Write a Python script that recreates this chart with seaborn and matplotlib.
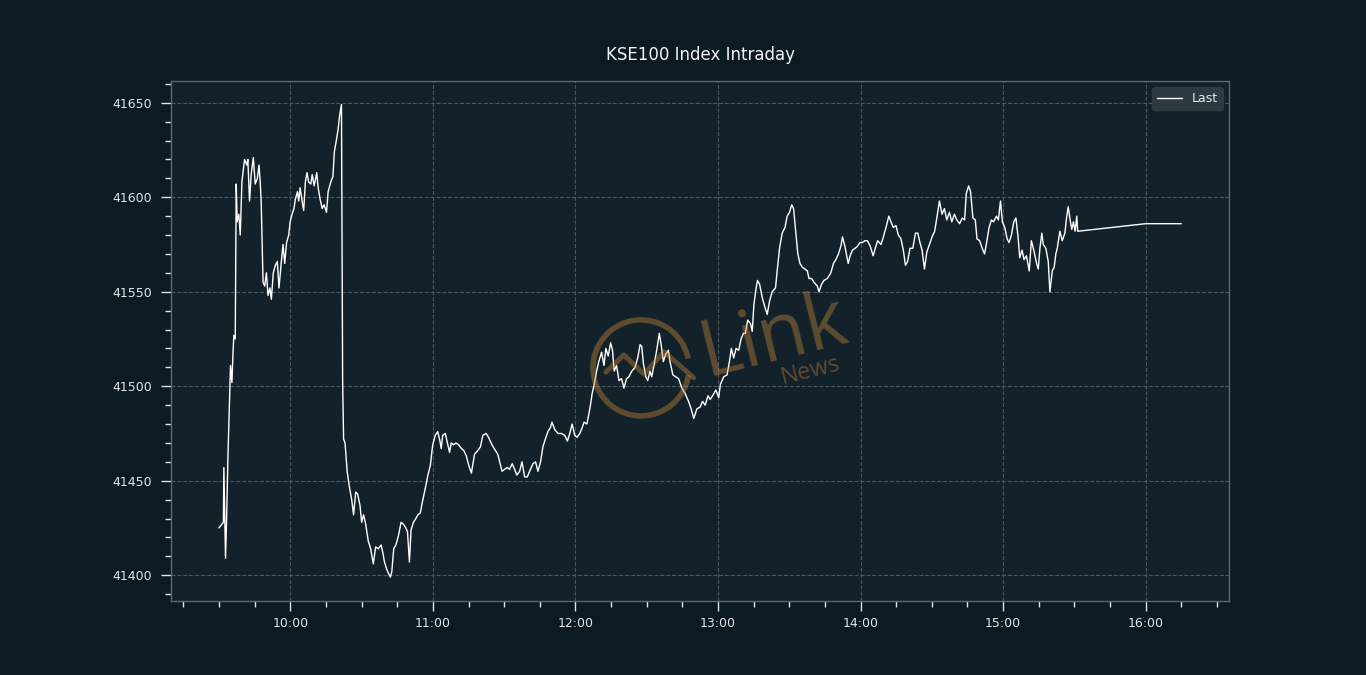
import matplotlib
matplotlib.use("Agg")
import matplotlib.pyplot as plt
import matplotlib.dates as mdates
from matplotlib.ticker import MultipleLocator
from matplotlib.patches import Arc
import pandas as pd
import seaborn as sns

open_minutes = [-30.1, -28.2, -28.0, -27.3, -26.8, -26.3, -25.2, -24.6, -24.2, -23.8, -23.2,
                -22.8, -22.4, -21.7, -21.1, -20.4, -19.3, -18.3, -17.9, -17.2, -16.5,
                -15.6, -14.8, -13.9, -13.2, -12.7, -12.3, -11.5, -10.8, -10.1, -9.4,
                -8.6, -8.0, -7.2, -6.3, -5.5, -4.8, -3.8, -3.1, -2.4, -1.6,
                -0.7, -0.1, 0.7, 1.5, 2.1, 3.0, 3.5, 4.1, 4.9, 5.6,
                6.3, 7.0, 7.7, 8.6, 9.2, 10.0, 11.1, 11.7, 12.5, 13.4,
                14.2, 15.2, 15.9, 17.0, 17.9, 18.5, 19.2, 20.1, 20.8, 21.5]
open_values = [41425, 41428, 41457, 41409, 41432, 41462, 41511, 41502, 41516, 41527, 41525,
               41607, 41587, 41591, 41580, 41608, 41620, 41617, 41620, 41598, 41612,
               41621, 41607, 41610, 41617, 41608, 41598, 41555, 41553, 41560, 41548,
               41552, 41546, 41560, 41564, 41566, 41552, 41566, 41575, 41565, 41576,
               41580, 41587, 41591, 41594, 41599, 41603, 41598, 41605, 41598, 41593,
               41608, 41613, 41608, 41607, 41612, 41606, 41613, 41605, 41599, 41594,
               41596, 41592, 41603, 41608, 41611, 41624, 41629, 41636, 41644, 41649]

selloff_minutes = [22.0, 22.4, 23.0, 23.9, 24.8, 25.8, 26.6, 27.5, 28.3, 29.3, 30.0,
                   30.8, 31.7, 32.8, 33.8, 34.9, 35.9, 37.0, 38.2, 38.9, 39.6,
                   40.6, 41.3, 42.1, 42.7, 43.5, 44.4, 45.5, 46.6, 47.6, 48.6,
                   49.3, 50.1, 50.8, 51.8, 52.8, 53.7, 54.7, 55.6, 56.8, 57.9,
                   58.9, 59.9, 61.0, 62.0, 62.8, 63.5, 64.1, 65.2, 66.1, 67.0,
                   67.7, 68.7, 69.7, 70.8, 72.0, 73.0, 74.1, 75.1, 76.2]
selloff_values = [41502, 41472, 41470, 41455, 41447, 41440, 41432, 41444, 41443, 41437, 41428,
                  41432, 41427, 41418, 41414, 41406, 41415, 41414, 41416, 41412, 41407,
                  41403, 41401, 41399, 41402, 41414, 41416, 41421, 41428, 41427, 41425,
                  41423, 41407, 41424, 41428, 41430, 41432, 41433, 41439, 41446, 41453,
                  41458, 41469, 41474, 41476, 41472, 41467, 41474, 41475, 41470, 41465,
                  41470, 41469, 41470, 41469, 41467, 41466, 41463, 41458, 41454]

midday_minutes = [77.5, 78.9, 80.0, 81.0, 82.4, 83.4, 84.5, 85.3, 86.3, 87.3,
                  88.3, 89.1, 90.1, 91.3, 92.2, 93.4, 94.4, 95.3, 96.5, 97.5,
                  98.6, 99.7, 100.7, 102.1, 103.2, 104.2, 105.3, 106.3, 107.3, 108.4,
                  109.4, 110.1, 111.3, 112.7, 114.1, 115.5, 116.6, 117.6, 118.6, 119.7,
                  120.7, 121.8, 122.8, 123.6, 124.8, 125.6, 126.3, 127.0]
midday_values = [41464, 41466, 41468, 41474, 41475, 41473, 41470, 41468, 41466, 41464,
                 41459, 41455, 41456, 41457, 41456, 41459, 41456, 41453, 41455, 41460,
                 41452, 41452, 41455, 41459, 41460, 41455, 41460, 41468, 41472, 41476,
                 41478, 41481, 41477, 41475, 41475, 41474, 41471, 41475, 41480, 41474,
                 41473, 41475, 41478, 41481, 41480, 41485, 41490, 41496]

rally_minutes = [127.9, 128.9, 129.8, 131.0, 132.0, 132.8, 133.8, 134.8, 135.6, 136.3,
                 137.3, 138.3, 139.4, 140.4, 141.5, 142.5, 143.7, 145.1, 146.2, 147.2,
                 147.9, 148.6, 149.6, 150.4, 151.4, 152.1, 153.2, 154.2, 155.3, 156.3,
                 157.0, 158.0, 159.1, 159.8, 161.0, 162.2, 163.4, 164.8, 166.2, 167.6,
                 168.7, 169.8, 171.1, 172.5, 173.5, 174.6, 175.8, 176.7, 178.2, 179.1,
                 180.3, 181.0, 182.4, 183.8, 184.8, 185.6, 186.6, 187.6, 188.7, 189.7,
                 190.7, 191.5, 192.5, 193.7, 194.4, 195.1, 195.8, 196.6, 197.5, 198.6,
                 199.7, 200.7, 201.7, 202.8, 204.2]
rally_values = [41501, 41508, 41513, 41518, 41511, 41520, 41516, 41523, 41519, 41508,
                41511, 41503, 41504, 41499, 41504, 41505, 41508, 41510, 41515, 41522,
                41521, 41512, 41505, 41503, 41508, 41505, 41512, 41519, 41528, 41520,
                41513, 41517, 41519, 41513, 41506, 41505, 41504, 41499, 41496, 41492,
                41488, 41483, 41488, 41489, 41492, 41490, 41495, 41493, 41496, 41498,
                41494, 41501, 41505, 41506, 41513, 41520, 41515, 41520, 41519, 41525,
                41528, 41528, 41535, 41533, 41529, 41543, 41550, 41556, 41554, 41547,
                41542, 41538, 41545, 41550, 41552]

afternoon_minutes = [204.9, 205.9, 207.0, 208.2, 209.1, 210.1, 211.0, 211.8, 212.7, 213.6,
                     214.5, 215.5, 216.6, 217.6, 218.3, 219.4, 220.4, 221.8, 222.5, 223.6,
                     224.6, 226.0, 227.5, 228.6, 229.6, 230.7, 231.7, 232.4, 233.4, 234.8,
                     235.6, 236.6, 237.7, 238.7, 239.7, 240.8, 241.8, 242.9, 244.1, 245.3,
                     246.2, 247.2, 248.6, 249.6, 250.7, 251.9, 252.8, 253.8, 254.9, 255.9,
                     257.0, 258.0, 258.9]
afternoon_values = [41561, 41573, 41581, 41584, 41590, 41592, 41596, 41594, 41582, 41570,
                    41565, 41563, 41562, 41561, 41557, 41557, 41555, 41553, 41550, 41554,
                    41556, 41557, 41560, 41565, 41567, 41570, 41574, 41579, 41574, 41565,
                    41569, 41572, 41573, 41574, 41576, 41576, 41577, 41577, 41574, 41569,
                    41573, 41577, 41575, 41579, 41584, 41590, 41587, 41584, 41585, 41580,
                    41578, 41572, 41564]

late_minutes = [259.8, 260.8, 262.0, 263.1, 264.1, 265.0, 265.9, 266.9, 267.9, 269.0,
                270.1, 271.2, 272.1, 273.2, 274.3, 275.3, 276.3, 277.4, 278.4, 279.5,
                280.5, 281.7, 282.8, 283.8, 284.5, 285.5, 286.3, 287.3, 288.3, 289.0,
                290.1, 291.2, 292.2, 293.2, 294.1, 295.1, 296.0, 297.2, 298.0, 298.9,
                299.7, 300.7, 301.7, 302.5, 303.5, 304.5, 305.4, 306.3, 307.0, 308.0,
                308.8, 309.8, 311.0, 311.9, 312.9, 314.1, 314.8, 315.5, 316.3, 316.9,
                318.0, 319.0, 319.7, 320.7, 321.5, 322.2, 322.8, 323.9, 324.9, 326.0,
                326.7, 327.4, 328.2, 328.9, 329.6, 330.3, 331.0, 331.4]
late_values = [41566, 41573, 41573, 41581, 41581, 41576, 41572, 41562, 41571, 41575,
               41579, 41582, 41589, 41598, 41591, 41594, 41588, 41592, 41587, 41591,
               41588, 41586, 41589, 41588, 41602, 41606, 41603, 41589, 41588, 41578,
               41577, 41573, 41570, 41577, 41584, 41588, 41587, 41590, 41588, 41598,
               41587, 41584, 41578, 41576, 41580, 41587, 41589, 41579, 41568, 41572,
               41567, 41569, 41561, 41577, 41572, 41565, 41562, 41573, 41581, 41575,
               41573, 41566, 41550, 41561, 41563, 41570, 41573, 41582, 41577, 41581,
               41589, 41595, 41588, 41583, 41587, 41582, 41590, 41582]

close_minutes = [360.0, 375.0]
close_values = [41586, 41586]

# ---------------------------------------------------------------------------

minutes = (open_minutes + selloff_minutes + midday_minutes + rally_minutes
           + afternoon_minutes + late_minutes + close_minutes)
values = (open_values + selloff_values + midday_values + rally_values
          + afternoon_values + late_values + close_values)

df = pd.DataFrame({"minutes": minutes, "last": values})
df["time"] = pd.Timestamp("2020-01-01 10:00") + pd.to_timedelta(df["minutes"], unit="m")

FIG_BG = "#0c1b21"
AX_BG = "#13222a"
SPINE = "#5a686e"
TEXT = "#d2d8da"

sns.set_style("ticks", rc={
    "axes.facecolor": AX_BG,
    "figure.facecolor": FIG_BG,
    "axes.edgecolor": SPINE,
    "axes.grid": True,
    "grid.color": "#4a585e",
    "grid.linestyle": "--",
    "grid.linewidth": 0.8,
    "xtick.color": "#e0e4e6",
    "ytick.color": "#e0e4e6",
    "xtick.labelcolor": TEXT,
    "ytick.labelcolor": TEXT,
})
plt.rcParams["font.family"] = ["DejaVu Sans"]

fig, ax = plt.subplots(figsize=(13.66, 6.75), dpi=100)
fig.subplots_adjust(left=0.125, right=0.9, bottom=0.11, top=0.88)

sns.lineplot(data=df, x="time", y="last", color="white", linewidth=1.0,
             estimator=None, label="Last", ax=ax)

ax.xaxis.set_major_locator(mdates.HourLocator())
ax.xaxis.set_minor_locator(mdates.MinuteLocator(byminute=range(0, 60, 15)))
ax.xaxis.set_major_formatter(mdates.DateFormatter("%H:%M"))
ax.yaxis.set_major_locator(MultipleLocator(50))
ax.yaxis.set_minor_locator(MultipleLocator(10))

ax.tick_params(which="major", length=7.5, width=1, labelsize=9)
ax.tick_params(which="minor", length=4.2, width=1)
ax.tick_params(axis="x", which="major", pad=4)
ax.tick_params(axis="y", which="major", pad=6)
for side in ["top", "right", "left", "bottom"]:
    ax.spines[side].set_visible(True)
    ax.spines[side].set_color(SPINE)
    ax.spines[side].set_linewidth(1.0)

ax.set_xlabel("")
ax.set_ylabel("")
ax.set_title("KSE100 Index Intraday", color="#f2f4f5", fontsize=12, pad=15)

leg = ax.legend(loc="upper right", fontsize=9, facecolor="#2d3a40",
                edgecolor="#2d3a40", framealpha=1.0)
for t in leg.get_texts():
    t.set_color("#e6eaec")

# watermark: ring logo with "Link News"
mark = "#d08a38"
ax.add_patch(Arc((0.4442, 0.448), 0.0907, 0.1846, theta1=22, theta2=343,
                 transform=ax.transAxes, color=mark, alpha=0.4, lw=4, zorder=4))
ax.plot([0.411, 0.428, 0.447, 0.466, 0.494], [0.440, 0.473, 0.436, 0.479, 0.429],
        transform=ax.transAxes, color=mark, alpha=0.4, lw=3.5, zorder=4)
ax.text(0.57, 0.505, "Link", transform=ax.transAxes, fontsize=56,
        family="Open Sans", color=mark, alpha=0.4,
        rotation=14, ha="center", va="center", rotation_mode="anchor", zorder=4)
ax.text(0.604, 0.442, "News", transform=ax.transAxes, fontsize=17,
        family="Open Sans", color=mark, alpha=0.4,
        rotation=14, ha="center", va="center", rotation_mode="anchor", zorder=4)

fig.savefig("out.png", dpi=100, facecolor=FIG_BG)
